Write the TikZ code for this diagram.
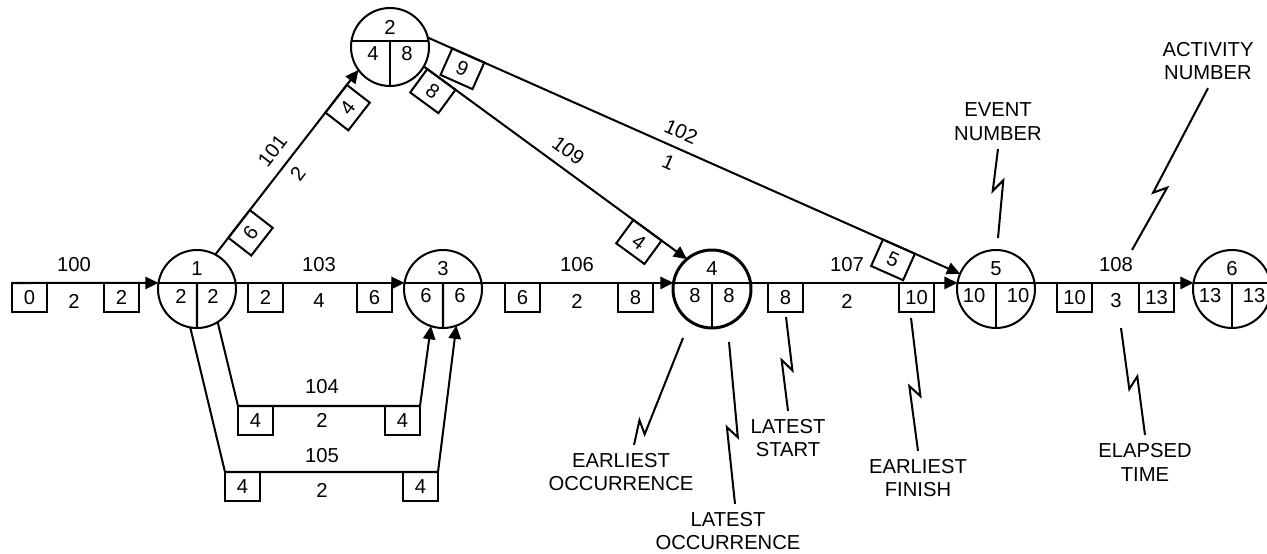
\documentclass[tikz,border=0pt]{standalone}
\usepackage{fontspec}
\setmainfont{Liberation Sans}
\usetikzlibrary{arrows.meta, calc}

\begin{document}
\begin{tikzpicture}[x=0.02cm, y=-0.02cm, line width=1.15pt, font=\fontsize{11.5}{13.6}\selectfont,
      ev/.style={draw, circle, minimum size=1.56cm, inner sep=0pt, outer sep=0pt},
      bx/.style={draw, minimum width=0.7cm, minimum height=0.58cm, inner sep=0pt, outer sep=0pt},
      remark/.style={align=center, inner sep=4pt},
      act/.style={-{Triangle[length=7.5pt, width=7pt]}},
      boltl/.style={to path={-- ($(\tikztostart)!#1!(\tikztotarget)!3pt!90:(\tikztotarget)$)
        -- ($(\tikztostart)!#1!(\tikztotarget)!-6pt!(\tikztotarget)!3pt!-90:(\tikztotarget)$) -- (\tikztotarget)}},
      boltr/.style={to path={-- ($(\tikztostart)!#1!(\tikztotarget)!3pt!-90:(\tikztotarget)$)
        -- ($(\tikztostart)!#1!(\tikztotarget)!-6pt!(\tikztotarget)!3pt!90:(\tikztotarget)$) -- (\tikztotarget)}}]
  \useasboundingbox (0,0) rectangle (1267,554);

  \foreach \n/\x/\y/\t/\l/\r/\d/\w in {1/197/289/1/2/2/16/1.15pt, 2/390/47/2/4/8/17/1.15pt, 3/443/289/3/6/6/17/1.15pt,
      4/712/289/4/8/8/17/1.7pt, 5/996/289/5/10/10/22/1.15pt, 6/1232/289/6/13/13/22/1.15pt} {
    \node[ev, line width=\w] (e\n) at (\x,\y) {};
    \draw (e\n.171) -- (e\n.9);
    \draw ($(e\n.171)!0.5!(e\n.9)$) -- (e\n.south);
    \node (e\n-t) at ($(e\n)+(0,-20)$) {\t};
    \node (e\n-l) at ($(e\n)+(-\d,7)$) {\l};
    \node (e\n-r) at ($(e\n)+(\d,7)$) {\r};
  }

  \coordinate (s0) at (12,283);
  \draw[act] (s0) -- (e1.171);
  \foreach \a/\b in {1/3, 3/4, 4/5, 5/6} \draw[act] (e\a.9) -- (e\b.171);
  \foreach \nm/\x/\v in {100a/12/0, 100b/104/2, 103a/248/2, 103b/357/6, 106a/505/6, 106b/618/8,
      107a/768/8, 107b/899/10, 108a/1057/10, 108b/1139/13}
    \node[bx, anchor=north west] (b\nm) at (\x,283) {\v};
  \foreach \a/\x/\t in {100/74/2, 103/319/4, 106/577/2, 107/847/2, 108/1116/3} {
    \node (a\a) at (\x,265) {\a};
    \node (d\a) at (\x,301) {\t};
  }

  \coordinate (c104a) at (238,406); \coordinate (c104b) at (420,406);
  \coordinate (c105a) at (225,472); \coordinate (c105b) at (438,472);
  \draw[act] (e1.-58) -- (c104a) -- (c104b) -- (e3.-108);
  \draw[act] (e1.-100) -- (c105a) -- (c105b) -- (e3.-70);
  \node[bx, anchor=north west] (b104a) at (c104a) {4};
  \node[bx, anchor=north east] (b104b) at (c104b) {4};
  \node[bx, anchor=north west] (b105a) at (c105a) {4};
  \node[bx, anchor=north east] (b105b) at (c105b) {4};
  \node (a104) at (322,387) {104}; \node (d104) at (322,420) {2};
  \node (a105) at (322,456) {105}; \node (d105) at (322,490) {2};

  \draw[act] (e1.62) -- node[bx, sloped, pos=0.166, anchor=north] (b101a) {6}
      node[sloped, pos=0.5, above=2.5pt] (a101) {101} node[sloped, pos=0.49, below=1pt] (d101) {2}
      node[bx, sloped, pos=0.844, anchor=north] (b101b) {4} (e2.216);
  \draw[act] (e2.330) -- node[bx, sloped, pos=0.067, anchor=north] (b109a) {8}
      node[sloped, pos=0.51, above=2pt] (a109) {109}
      node[bx, sloped, pos=0.85, anchor=north] (b109b) {4} (e4.130);
  \draw[act] (e2.14) -- node[bx, sloped, pos=0.076, anchor=north] (b102a) {9}
      node[sloped, pos=0.463, above=1.5pt] (a102) {102} node[sloped, pos=0.465, below=1.5pt] (d102) {1}
      node[bx, sloped, pos=0.885, anchor=north] (b102b) {5} (e5.157);

  \node[remark] (eocc) at (621,472) {EARLIEST\\OCCURRENCE};
  \node[remark] (locc) at (728,531) {LATEST\\OCCURRENCE};
  \node[remark] (lst) at (788,438) {LATEST\\START};
  \node[remark] (efin) at (918,478) {EARLIEST\\FINISH};
  \node[remark] (elap) at (1145,462) {ELAPSED\\TIME};
  \node[remark] (evn) at (998,122) {EVENT\\NUMBER};
  \node[remark] (actn) at (1208,61) {ACTIVITY\\NUMBER};

  \coordinate (eocc0) at (683,338); \coordinate (eocc1) at ($(eocc.north)+(13,0)$);
  \draw (eocc0) to[boltl=0.88] (eocc1);
  \coordinate (locc0) at (729,342); \coordinate (locc1) at ($(locc.north)+(7,0)$);
  \draw (locc0) to[boltl=0.59] (locc1);
  \coordinate (lst0) at (786,317); \draw (lst0) to[boltl=0.57] (lst.north);
  \coordinate (efin0) at (911,318); \draw (efin0) to[boltl=0.59] (efin.north);
  \coordinate (elap0) at (1121,328); \draw (elap0) to[boltr=0.56] (elap.north);
  \coordinate (evn0) at (998,238); \draw (evn.south) to[boltr=0.47] (evn0);
  \coordinate (actn0) at (1132,250); \draw (actn.south) to[boltr=0.66] (actn0);
\end{tikzpicture}
\end{document}
